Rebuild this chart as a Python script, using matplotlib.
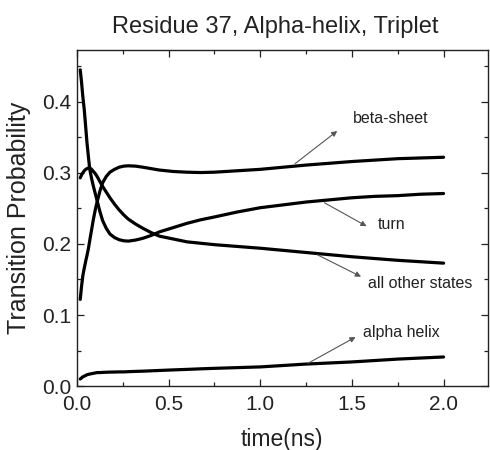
import matplotlib
matplotlib.use("Agg")
import matplotlib.pyplot as plt
from matplotlib.ticker import MultipleLocator

plt.rcParams['font.family'] = ['Liberation Sans', 'DejaVu Sans']

time_ns = [0.018, 0.025, 0.032, 0.04, 0.048, 0.055, 0.063, 0.07, 0.08, 0.09,
           0.1, 0.11, 0.125, 0.14, 0.16, 0.18, 0.205, 0.23, 0.255, 0.28,
           0.32, 0.36, 0.405, 0.45, 0.525, 0.6, 0.675, 0.75, 0.875, 1.0,
           1.125, 1.25, 1.375, 1.5, 1.625, 1.75, 1.875, 2.0]

turn = [0.445, 0.428, 0.408, 0.389, 0.364, 0.342, 0.322, 0.305, 0.292, 0.281,
        0.271, 0.261, 0.246, 0.233, 0.222, 0.214, 0.209, 0.206, 0.2045, 0.204,
        0.2055, 0.208, 0.212, 0.217, 0.223, 0.229, 0.234, 0.238, 0.245, 0.251,
        0.255, 0.259, 0.262, 0.265, 0.267, 0.268, 0.270, 0.271]

all_other = [0.293, 0.297, 0.300, 0.303, 0.305, 0.306, 0.307, 0.307, 0.305, 0.302,
             0.299, 0.295, 0.288, 0.281, 0.273, 0.265, 0.256, 0.248, 0.241, 0.235,
             0.228, 0.222, 0.216, 0.211, 0.207, 0.203, 0.201, 0.199, 0.1965, 0.194,
             0.191, 0.188, 0.185, 0.182, 0.1795, 0.177, 0.175, 0.173]

beta_sheet = [0.122, 0.140, 0.155, 0.166, 0.176, 0.184, 0.194, 0.205, 0.220, 0.235,
              0.248, 0.259, 0.274, 0.286, 0.295, 0.301, 0.305, 0.308, 0.3095, 0.310,
              0.3095, 0.308, 0.306, 0.304, 0.302, 0.301, 0.3005, 0.301, 0.303, 0.305,
              0.308, 0.311, 0.3135, 0.316, 0.318, 0.320, 0.321, 0.322]

alpha_helix = [0.010, 0.0115, 0.013, 0.014, 0.015, 0.016, 0.0165, 0.017, 0.0175, 0.018,
               0.0185, 0.019, 0.019, 0.0193, 0.0195, 0.0197, 0.0198, 0.020, 0.020, 0.0203,
               0.0207, 0.021, 0.0215, 0.022, 0.0228, 0.0235, 0.0243, 0.025, 0.026, 0.027,
               0.029, 0.031, 0.0325, 0.034, 0.036, 0.038, 0.0395, 0.041]

title = "Residue 37, Alpha-helix, Triplet"
xlabel = "time(ns)"
ylabel = "Transition Probability"

fig = plt.figure(figsize=(4.9, 4.5), dpi=100)
ax = fig.add_axes([0.157, 0.142, 0.838, 0.747])

for series in (turn, all_other, beta_sheet, alpha_helix):
    ax.plot(time_ns, series, color='black', lw=2.3, solid_capstyle='round',
            solid_joinstyle='round')

ax.set_xlim(0, 2.24)
ax.set_ylim(0, 0.473)
ax.xaxis.set_major_locator(MultipleLocator(0.5))
ax.xaxis.set_minor_locator(MultipleLocator(0.25))
ax.yaxis.set_major_locator(MultipleLocator(0.1))
ax.yaxis.set_minor_locator(MultipleLocator(0.05))
ax.xaxis.set_major_formatter(plt.FuncFormatter(lambda v, p: f"{v:.1f}"))
ax.yaxis.set_major_formatter(plt.FuncFormatter(lambda v, p: f"{v:.1f}"))
ax.tick_params(which='both', direction='in', top=True, right=True, labelsize=15,
               colors='#222222', width=0.9)
ax.tick_params(which='major', length=5)
ax.tick_params(which='minor', length=3)
ax.tick_params(axis='x', which='major', pad=6.5)
ax.tick_params(axis='y', which='major', pad=4)
for s in ax.spines.values():
    s.set_linewidth(1.0)
    s.set_color('#222222')

ax.set_xlabel(xlabel, fontsize=16.5, color='#222222', labelpad=10)
ax.set_ylabel(ylabel, fontsize=18, color='#222222', labelpad=8)
fig.text(0.562, 0.94, title, ha='center', va='center', fontsize=17, color='#222222')

arrow = dict(arrowstyle='-|>', color='#555555', lw=0.8, mutation_scale=8, shrinkA=0, shrinkB=0)
annots = [
    ("beta-sheet", (1.19, 0.313), (1.42, 0.359), (1.505, 0.377)),
    ("turn", (1.35, 0.258), (1.58, 0.225), (1.64, 0.227)),
    ("all other states", (1.31, 0.185), (1.55, 0.154), (1.59, 0.144)),
    ("alpha helix", (1.26, 0.032), (1.52, 0.069), (1.56, 0.076)),
]
for label, start, end, tpos in annots:
    ax.annotate("", xy=end, xytext=start, arrowprops=arrow)
    ax.text(tpos[0], tpos[1], label, fontsize=11.5, color='#222222', va='center', ha='left')

fig.savefig("out.png", dpi=100)
